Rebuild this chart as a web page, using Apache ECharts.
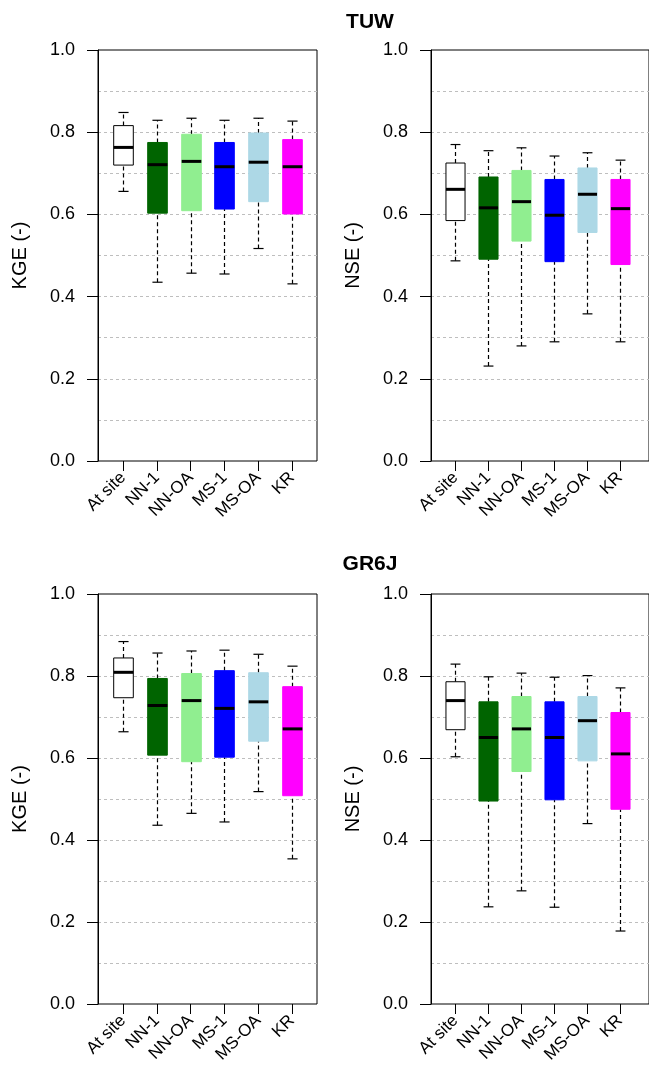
<!DOCTYPE html>
<html>
<head>
<meta charset="utf-8">
<script src="https://cdn.jsdelivr.net/npm/echarts@6/dist/echarts.min.js"></script>
<style>
html,body{margin:0;padding:0;background:#fff;}
#chart{width:649px;height:1079px;}
</style>
</head>
<body>
<div id="chart"></div>
<script>
// Categories and box colours
const categories = ['At site', 'NN-1', 'NN-OA', 'MS-1', 'MS-OA', 'KR'];
const boxColors = ['#FFFFFF', '#006400', '#90EE90', '#0000FF', '#ADD8E6', '#FF00FF'];
const models = ['TUW', 'GR6J'];

// Each entry: [lower whisker, Q1, median, Q3, upper whisker]
const tuwKGE = [
  [0.656, 0.720, 0.763, 0.816, 0.848],
  [0.435, 0.603, 0.721, 0.775, 0.829],
  [0.457, 0.609, 0.729, 0.795, 0.834],
  [0.455, 0.613, 0.716, 0.775, 0.829],
  [0.517, 0.631, 0.727, 0.798, 0.834],
  [0.431, 0.601, 0.716, 0.782, 0.827]
];
const tuwNSE = [
  [0.487, 0.585, 0.661, 0.725, 0.770],
  [0.231, 0.491, 0.616, 0.691, 0.755],
  [0.280, 0.535, 0.631, 0.707, 0.762],
  [0.290, 0.485, 0.598, 0.685, 0.742],
  [0.358, 0.556, 0.649, 0.713, 0.750],
  [0.290, 0.478, 0.614, 0.685, 0.732]
];
const gr6jKGE = [
  [0.664, 0.747, 0.809, 0.844, 0.884],
  [0.436, 0.607, 0.728, 0.794, 0.856],
  [0.465, 0.591, 0.740, 0.806, 0.861],
  [0.444, 0.602, 0.721, 0.813, 0.863],
  [0.518, 0.641, 0.737, 0.808, 0.853],
  [0.354, 0.508, 0.671, 0.774, 0.824]
];
const gr6jNSE = [
  [0.603, 0.669, 0.740, 0.786, 0.829],
  [0.237, 0.495, 0.650, 0.737, 0.798],
  [0.276, 0.567, 0.671, 0.750, 0.807],
  [0.236, 0.498, 0.650, 0.737, 0.797],
  [0.440, 0.593, 0.691, 0.750, 0.801],
  [0.178, 0.475, 0.610, 0.711, 0.771]
];

const PX_PER_UNIT = 219 / 6.48;
const panels = [
  {data: tuwKGE, yName: 'KGE (-)', left: 98, top: 50, height: 411, width: 219},
  {data: tuwNSE, yName: 'NSE (-)', left: 431, top: 50, height: 411, width: 224},
  {data: gr6jKGE, yName: 'KGE (-)', left: 98, top: 594, height: 410, width: 219},
  {data: gr6jNSE, yName: 'NSE (-)', left: 431, top: 594, height: 410, width: 224}
];

const FONT = '"Liberation Sans", Arial, sans-serif';
const BOX_W = 0.58, CAP_W = 0.30;

function renderBox(params, api) {
  const x = api.value(0);
  const lo = api.coord([x, api.value(1)]);
  const q1 = api.coord([x, api.value(2)]);
  const md = api.coord([x, api.value(3)]);
  const q3 = api.coord([x, api.value(4)]);
  const hi = api.coord([x, api.value(5)]);
  const bw = api.size([BOX_W, 0])[0];
  const cw = api.size([CAP_W, 0])[0];
  const col = boxColors[params.dataIndex];
  const isWhite = col === '#FFFFFF';
  const dash = {stroke: '#000', lineWidth: 1.2, lineDash: [4, 3]};
  const solid = {stroke: '#000', lineWidth: 1.2};
  const cx = Math.round(lo[0]) + 0.5;
  return {
    type: 'group',
    children: [
      {type: 'line', shape: {x1: cx, y1: lo[1], x2: cx, y2: q1[1]}, style: dash},
      {type: 'line', shape: {x1: cx, y1: q3[1], x2: cx, y2: hi[1]}, style: dash},
      {type: 'line', shape: {x1: cx - cw / 2, y1: lo[1], x2: cx + cw / 2, y2: lo[1]}, style: solid},
      {type: 'line', shape: {x1: cx - cw / 2, y1: hi[1], x2: cx + cw / 2, y2: hi[1]}, style: solid},
      {type: 'rect', shape: {x: cx - bw / 2, y: q3[1], width: bw, height: q1[1] - q3[1]},
        style: {fill: col, stroke: isWhite ? '#000' : col, lineWidth: 1}},
      {type: 'line', shape: {x1: cx - bw / 2, y1: md[1], x2: cx + bw / 2, y2: md[1]},
        style: {stroke: '#000', lineWidth: 3}}
    ]
  };
}

const option = {
  animation: false,
  backgroundColor: '#fff',
  title: [
    {text: models[0], left: 365, top: 7, textAlign: 'center',
      textStyle: {fontFamily: FONT, fontWeight: 'bold', fontSize: 21, color: '#000'}},
    {text: models[1], left: 365, top: 549, textAlign: 'center',
      textStyle: {fontFamily: FONT, fontWeight: 'bold', fontSize: 21, color: '#000'}}
  ],
  grid: panels.map(p => ({
    left: p.left, top: p.top, width: p.width, height: p.height,
    show: true, borderColor: '#000', borderWidth: 1, backgroundColor: 'transparent',
    containLabel: false
  })),
  xAxis: panels.map((p, i) => ({
    type: 'value', gridIndex: i, min: 0.26, max: 0.26 + p.width / PX_PER_UNIT,
    axisLine: {show: false},
    splitLine: {show: false},
    axisTick: {show: true, inside: false, length: 10, customValues: [1, 2, 3, 4, 5, 6],
      lineStyle: {color: '#000', width: 1}},
    axisLabel: {show: true, customValues: [1, 2, 3, 4, 5, 6], rotate: 45, margin: 14,
      fontFamily: FONT, fontSize: 17, color: '#000',
      formatter: v => categories[Math.round(v) - 1] || ''}
  })),
  yAxis: panels.map((p, i) => ({
    type: 'value', gridIndex: i, min: 0, max: 1, interval: 0.2,
    name: p.yName, nameLocation: 'middle', nameGap: 68, nameRotate: 90,
    nameTextStyle: {fontFamily: FONT, fontSize: 20, color: '#000'},
    axisLine: {show: true, lineStyle: {color: '#000', width: 1}},
    axisTick: {show: true, inside: false, length: 11,
      lineStyle: {color: '#000', width: 1}},
    axisLabel: {show: true, margin: 23,
      fontFamily: FONT, fontSize: 18, color: '#000',
      formatter: v => v.toFixed(1)},
    splitLine: {show: true, showMinLine: false, showMaxLine: false,
      lineStyle: {color: '#BEBEBE', type: [3, 3], width: 1}},
    minorTick: {show: false, splitNumber: 2},
    minorSplitLine: {show: true, lineStyle: {color: '#BEBEBE', type: [3, 3], width: 1}}
  })),
  series: panels.map((p, i) => ({
    type: 'custom', xAxisIndex: i, yAxisIndex: i,
    renderItem: renderBox,
    encode: {x: 0, y: [1, 2, 3, 4, 5]},
    data: p.data.map((d, k) => [k + 1].concat(d)),
    z: 5
  }))
};

const chart = echarts.init(document.getElementById('chart'), null, {renderer: 'canvas'});
chart.setOption(option);
</script>
</body>
</html>
